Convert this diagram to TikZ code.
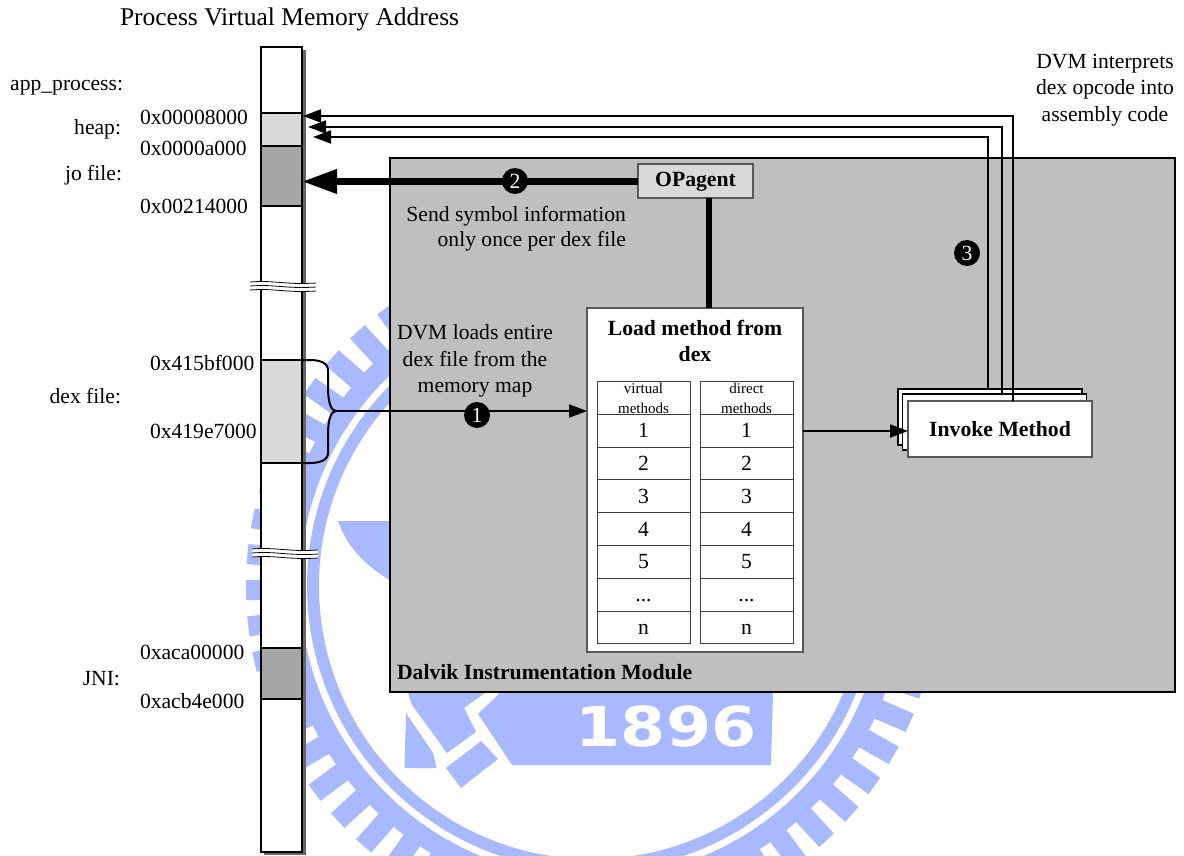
\documentclass[tikz,border=0pt]{standalone}
\usepackage{fontspec}
\setmainfont{Liberation Serif}
\newfontfamily\sealfont{DejaVu Sans}
\usetikzlibrary{positioning,arrows.meta}
\definecolor{seal}{HTML}{A8B9FF}
\newcommand{\dotstxt}{...}
\begin{document}
\begin{tikzpicture}[
    x=1pt,
    y=-1pt,
    every node/.style={inner sep=0pt, outer sep=0pt},
    TXT/.style={font=\fontsize{21.6}{26.5}\selectfont},
    BOLD/.style={font=\fontsize{21.7}{26.5}\selectfont\bfseries},
    MEM/.style={
        rectangle,
        draw=black,
        line width=2pt,
        minimum width=41pt,
        anchor=north west
    },
    SHEET/.style={
        rectangle,
        draw=black,
        fill=white,
        line width=1.5pt,
        minimum width=184pt,
        minimum height=56pt,
        anchor=north west
    },
    CELL/.style={
        rectangle,
        draw=black!75,
        fill=white,
        line width=1pt,
        minimum width=93pt,
        minimum height=32.8pt,
        TXT
    },
    NUM/.style={
        circle,
        fill=black,
        text=white,
        minimum size=26pt,
        TXT
    },
    arrow/.style={-{Triangle[length=18pt,width=13pt]}, line width=2pt},
    bigarrow/.style={-{Triangle[length=35pt,width=23pt]}, line width=7pt}
]

% seal behind the figure
\begin{scope}
\clip (0,0) rectangle (1184,856);
\begin{scope}[shift={(592,586)}, seal]
\draw[line width=12pt] (0,0) circle [radius=279];
\draw[line width=20pt] (0,0) circle [radius=302];
\foreach \a in {0,6,...,354}
    \draw[line width=20pt] (\a-0.7:308) -- (\a-0.7:346);
\end{scope}
\fill[seal] (773,693) -- (771,765) -- (512,765) -- (478,714) -- (500,693) -- cycle;
\fill[seal] (408,693) -- (412,705) -- (447,753) -- (476,732) -- (464,708) -- (485,693) -- cycle;
\fill[seal] (406,713) -- (433,753) -- (436.5,768) -- (404.5,768) -- cycle;
\fill[seal] (481,741) -- (498,759) -- (461,788) -- (446,768) -- cycle;
\fill[seal] (338,521) -- (400,521) -- (400,586) .. controls (370,570) and (348,550) .. (338,521) -- cycle;
\node[text=white, font=\sealfont\bfseries\fontsize{55}{55}\selectfont, xscale=1.18] (year) at (666,726) {1896};
\end{scope}

% memory bar
\fill[black!60] (264,50) rectangle (305.5,855);
\node[MEM, fill=white, minimum height=805pt] (bar) at (261,47) {};
\node[MEM, fill=black!15, minimum height=33pt] (heap) at (261,113) {};
\node[MEM, fill=black!35, minimum height=60pt] (jofile) at (261,146) {};
\node[MEM, fill=black!15, minimum height=103pt] (dexfile) at (261,360) {};
\node[MEM, fill=black!35, minimum height=51pt] (jni) at (261,648) {};

\foreach \xb/\yb in {250/286,252/553}{
    \fill[white] (\xb,\yb-4) .. controls (\xb+25,\yb-6) and (\xb+35,\yb-1) .. (\xb+66,\yb-3)
        -- (\xb+66,\yb+5) .. controls (\xb+35,\yb+7) and (\xb+25,\yb+2) .. (\xb,\yb+4) -- cycle;
    \foreach \dl in {-4,0,4}
        \draw[line width=0.8pt] (\xb,\yb+\dl) .. controls (\xb+25,\yb+\dl-2) and (\xb+35,\yb+\dl+3) .. (\xb+66,\yb+\dl+1);
}

\node[anchor=west, font=\fontsize{25.5}{30}\selectfont] (title) at (120,19) {Process Virtual Memory Address};
\node[TXT, anchor=east] (lapp) at (123,88) {app\_process:};
\node[TXT, anchor=east] (lheap) at (121,129) {heap:};
\node[TXT, anchor=east] (ljo) at (122,175) {jo file:};
\node[TXT, anchor=east] (ldex) at (121,396) {dex file:};
\node[TXT, anchor=east] (ljni) at (120,679) {JNI:};

\node[TXT, anchor=west] (a1) at (140,117) {0x00008000};
\node[TXT, anchor=west] (a2) at (140,148) {0x0000a000};
\node[TXT, anchor=west] (a3) at (140,206) {0x00214000};
\node[TXT, anchor=west] (a4) at (150,363) {0x415bf000};
\node[TXT, anchor=west] (a5) at (150,431) {0x419e7000};
\node[TXT, anchor=west] (a6) at (140,652) {0xaca00000};
\node[TXT, anchor=west] (a7) at (140,701) {0xacb4e000};

% module box
\node[rectangle, draw=black, fill=black!25, line width=2pt, minimum width=785pt, minimum height=534pt, anchor=north west] (module) at (390,158) {};
\node[BOLD, anchor=west] (mname) at (397,672) {Dalvik Instrumentation Module};

\node[rectangle, draw=black!65, fill=black!15, line width=2pt, minimum width=115pt, minimum height=34pt, BOLD] (opagent) at (695.5,181.5) {OPagent};

\node[rectangle, draw=black!65, fill=white, line width=2pt, minimum width=216pt, minimum height=344pt, anchor=north west] (loadm) at (587,308) {};
\node[BOLD, align=center] (ltitle) at (695,341) {Load method from\\dex};

\foreach \c/\cx/\hd in {v/597/virtual,d/700/direct}{
    \node[CELL, anchor=north west, font=\fontsize{15}{20}\selectfont, align=center] (\c0) at (\cx,381.5) {\hd\\methods};
    \foreach \i/\txt [remember=\i as \prev (initially 0)] in {1/1,2/2,3/3,4/4,5/5,6/\dotstxt,7/n}
        \node[CELL, below=0pt of \c\prev] (\c\i) {\vphantom{1}\txt};
}

\node[SHEET] (inva) at (898,389) {};
\node[SHEET] (invb) at (902.5,394) {};
\node[SHEET, draw=black!65, line width=2pt, BOLD] (invc) at (908,401) {Invoke Method};

% connectors
\coordinate (s1) at (1013,401);
\coordinate (s2) at (1002,394);
\coordinate (s3) at (988,389);
\coordinate (t1) at (303,116);
\coordinate (t2) at (308,127);
\coordinate (t3) at (313,137);
\draw[arrow] (s1) |- (t1);
\draw[arrow] (s2) |- (t2);
\draw[arrow] (s3) |- (t3);

\draw[bigarrow] (opagent.west) -- (opagent.west -| bar.east);

\coordinate (opdown) at (709,250);
\draw[line width=6pt] (opagent.south -| opdown) -- (loadm.north -| opdown);

\coordinate (tip) at (336,411);
\coordinate (invin) at (908,431);
\draw[line width=2pt] (dexfile.north east) -- (310,360) .. controls (320,360) and (328,363) .. (328,370) -- (328,388)
    .. controls (328,402) and (331,411) .. (tip) .. controls (331,411) and (328,420) .. (328,434) -- (328,453)
    .. controls (328,460) and (320,463) .. (310,463) -- (dexfile.south east);
\draw[arrow] (tip) -- (tip -| loadm.west);
\draw[arrow] (invin -| loadm.east) -- (invin);

\node[NUM] (n1) at (477,415) {1};
\node[NUM] (n2) at (515,181) {2};
\node[NUM] (n3) at (967,253) {3};

\node[TXT, align=right, anchor=north east] (msym) at (626,206) {Send symbol information\\[-1.5pt]only once per dex file};
\node[TXT, align=center] (mdvm) at (475,361) {DVM loads entire\\dex file from the\\memory map};
\node[TXT, align=center] (mint) at (1105,90) {DVM interprets\\dex opcode into\\assembly code};

\useasboundingbox (0,0) rectangle (1184,856);
\end{tikzpicture}
\end{document}
